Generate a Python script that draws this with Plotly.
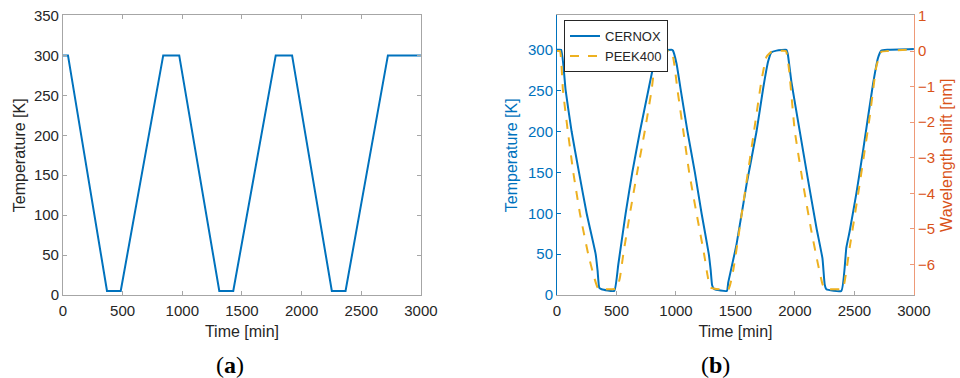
import plotly.graph_objects as go

# Panel (a): set-point temperature profile
time_a = [0, 42, 369, 484, 840, 974, 1310, 1427, 1783, 1920, 2253, 2368, 2723, 3000]
temp_a = [300, 300, 5, 5, 300, 300, 5, 5, 300, 300, 5, 5, 300, 300]

# Panel (b): CERNOX temperature [K]
time_cernox = [0, 35, 73, 123, 185, 249, 325, 341, 355, 375, 481, 515, 577, 633, 697, 767, 814, 837, 879, 968,
               975, 1005, 1041, 1097, 1159, 1215, 1276, 1292, 1304, 1322, 1428, 1439, 1509, 1593, 1677, 1733, 1775, 1803, 1845, 1929,
               1940, 1971, 2041, 2111, 2181, 2231, 2250, 2264, 2390, 2432, 2460, 2517, 2572, 2656, 2698, 2726, 2782, 3000]
temp_cernox = [300, 300, 250, 200, 150, 100, 50, 30, 9, 7, 5, 37, 100, 150, 200, 250, 283, 295, 299, 300,
               299, 283, 250, 200, 150, 100, 50, 30, 12, 7, 5, 15, 62, 135, 200, 253, 286, 297, 299, 300,
               295, 260, 200, 140, 82, 45, 13, 7, 5, 58, 78, 125, 176, 258, 290, 299, 300, 301]

# Panel (b): PEEK400 wavelength shift [nm]
time_peek = [0, 25, 50, 90, 137, 193, 263, 313, 347, 501, 529, 557, 613, 674, 739, 795, 823, 851, 907, 963,
             985, 1013, 1061, 1111, 1173, 1237, 1265, 1290, 1440, 1480, 1565, 1649, 1719, 1761, 1803, 1923,
             1951, 1998, 2068, 2138, 2194, 2231, 2250, 2376, 2404, 2460, 2544, 2628, 2684, 2726, 2782, 3000]
shift_peek = [0, 0, -1.1, -2.23, -3.41, -4.57, -5.72, -6.37, -6.68, -6.68, -6.37, -5.72, -4.57, -3.41, -2.23, -1.1, -0.35, -0.05, 0, 0,
              -0.35, -1.1, -2.23, -3.41, -4.57, -5.72, -6.3, -6.65, -6.7, -6.19, -4.3, -2.42, -0.82, -0.16, -0.02, 0,
              -0.54, -2.23, -3.73, -5.06, -6.0, -6.55, -6.68, -6.7, -6.68, -5.53, -3.74, -1.86, -0.44, -0.02, 0, 0.05]

x_ticks = [0, 500, 1000, 1500, 2000, 2500, 3000]
y_ticks_a = [0, 50, 100, 150, 200, 250, 300, 350]
y_ticks_b = [0, 50, 100, 150, 200, 250, 300]
y_ticks_r = [1, 0, -1, -2, -3, -4, -5, -6]

BLUE = "#0072BD"
YEL = "#EDB120"
ORG = "#D95319"
ORG_LINE = "#EE9A78"
TXT = "#262626"
FRAME = "#a6a6a6"
FONT = "Liberation Sans"
TS = 15
TT = 16

fig = go.Figure()
fig.add_trace(go.Scatter(x=time_a, y=temp_a, mode="lines", line=dict(color=BLUE, width=2),
                         xaxis="x", yaxis="y", showlegend=False))
fig.add_trace(go.Scatter(x=time_cernox, y=temp_cernox, mode="lines", name="CERNOX",
                         line=dict(color=BLUE, width=2, shape="spline", smoothing=0.4), xaxis="x2", yaxis="y2"))
fig.add_trace(go.Scatter(x=time_peek, y=shift_peek, mode="lines", name="PEEK400",
                         line=dict(color=YEL, width=2, dash="dash", shape="spline", smoothing=0.4),
                         xaxis="x2", yaxis="y3"))

ydom = [0.2196, 0.959]
tickfont = dict(family=FONT, size=TS, color=TXT)
common_x = dict(range=[0, 3000], tickvals=x_ticks, ticks="inside", ticklen=4, showgrid=False, zeroline=False,
                showline=True, linecolor=FRAME, linewidth=1, tickcolor=FRAME, tickfont=tickfont,
                ticklabelstandoff=2,
                title=dict(text="Time [min]", font=dict(family=FONT, size=TT, color=TXT), standoff=7),
                automargin=False)

fig.update_layout(
    width=960, height=378, margin=dict(l=0, r=0, t=0, b=0),
    paper_bgcolor="white", plot_bgcolor="white",
    xaxis=dict(domain=[0.0656, 0.4385], anchor="y", mirror="ticks", **common_x),
    yaxis=dict(domain=ydom, anchor="x", range=[0, 350], tickvals=y_ticks_a, ticks="inside", ticklen=4,
               mirror="ticks", showgrid=False, zeroline=False, showline=True, linecolor=FRAME, linewidth=1,
               tickcolor=FRAME, tickfont=tickfont, automargin=False,
               title=dict(text="Temperature [K]", font=dict(family=FONT, size=TT, color=TXT), standoff=4)),
    xaxis2=dict(domain=[0.5802, 0.952], anchor="y2", mirror=True, **common_x),
    yaxis2=dict(domain=ydom, anchor="x2", range=[0, 342], tickvals=y_ticks_b, ticks="inside", ticklen=4,
                showgrid=False, zeroline=False, showline=True, linecolor=BLUE, linewidth=1,
                tickcolor=BLUE, tickfont=dict(family=FONT, size=TS, color=BLUE), automargin=False,
                title=dict(text="Temperature [K]", font=dict(family=FONT, size=TT, color=BLUE), standoff=6)),
    yaxis3=dict(domain=ydom, anchor="x2", overlaying="y2", side="right", range=[-6.86, 1], tickvals=y_ticks_r,
                ticks="inside", ticklen=4, showgrid=False, zeroline=False, showline=True, linecolor=ORG_LINE,
                linewidth=1, tickcolor=ORG_LINE, tickfont=dict(family=FONT, size=TS, color=ORG), automargin=False,
                title=dict(text="Wavelength shift [nm]", font=dict(family=FONT, size=TT, color=ORG), standoff=6)),
    legend=dict(x=0.5875, y=0.947, xanchor="left", yanchor="top", bgcolor="white", bordercolor=TXT,
                borderwidth=1, font=dict(family=FONT, size=13, color=TXT), tracegroupgap=0,
                itemwidth=30),
    annotations=[
        dict(text="(<b>a</b>)", x=0.2396, y=0.034, xref="paper", yref="paper", showarrow=False,
             xanchor="center", yanchor="middle",
             font=dict(family="Liberation Serif", size=24, color="black")),
        dict(text="(<b>b</b>)", x=0.745, y=0.034, xref="paper", yref="paper", showarrow=False,
             xanchor="center", yanchor="middle",
             font=dict(family="Liberation Serif", size=24, color="black")),
    ],
)

fig.write_html("out.html")
